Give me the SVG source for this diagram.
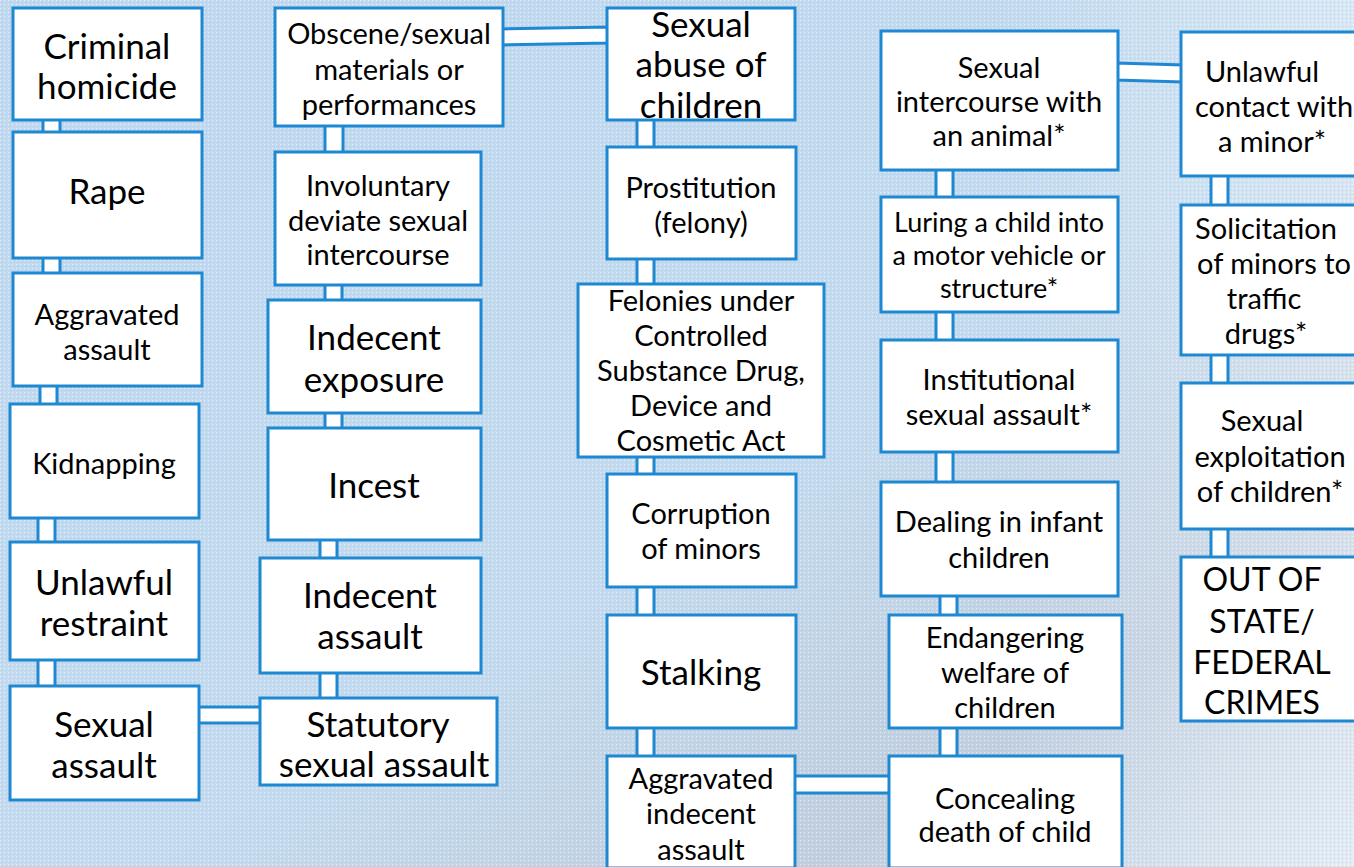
<svg xmlns="http://www.w3.org/2000/svg" width="1354" height="867" viewBox="0 0 1354 867">
<style>
.box{fill:#fff;stroke:#1f88d2;stroke-width:3}
.con{fill:#fff;stroke:#1f88d2;stroke-width:3}
text{font-family:Lato,"Noto Sans","Liberation Sans",sans-serif;fill:#000;text-anchor:middle;dominant-baseline:central}
.L{font-size:35px}
.M{font-size:29px}
.S{font-size:27px}
.X{font-size:32px}
</style>
<defs>
<linearGradient id="bg" x1="0" y1="0" x2="1" y2="1">
<stop offset="0" stop-color="#c0d9ef"/>
<stop offset="0.55" stop-color="#c4dbef"/>
<stop offset="0.8" stop-color="#c2cfdf"/>
<stop offset="1" stop-color="#d4e2ef"/>
</linearGradient>
<pattern id="dots" width="4" height="4" patternUnits="userSpaceOnUse">
<rect x="0" y="0" width="1" height="1" fill="#ffffff" opacity="0.6"/>
<rect x="2" y="2" width="1" height="1" fill="#9fbedc" opacity="0.5"/>
</pattern>
<linearGradient id="sheen" x1="0" y1="0" x2="1" y2="0">
<stop offset="0" stop-color="#fff" stop-opacity="0"/>
<stop offset="1" stop-color="#fff" stop-opacity="0.35"/>
</linearGradient>
</defs>
<rect width="1354" height="867" fill="url(#bg)"/>
<rect x="1000" y="0" width="354" height="867" fill="url(#sheen)"/>
<rect width="1354" height="867" fill="url(#dots)"/>

<g id="connectors">
<rect class="con" x="43" y="118" width="17" height="16"/>
<rect class="con" x="43" y="256" width="17" height="19"/>
<rect class="con" x="40" y="384" width="17" height="22"/>
<rect class="con" x="38" y="516" width="17" height="28"/>
<rect class="con" x="38" y="658" width="17" height="30"/>
<rect class="con" x="197" y="707" width="65" height="16"/>
<rect class="con" x="325" y="124" width="18" height="30"/>
<rect class="con" x="325" y="283" width="17" height="19"/>
<rect class="con" x="325" y="411" width="17" height="19"/>
<rect class="con" x="320" y="538" width="17" height="22"/>
<rect class="con" x="320" y="671" width="17" height="29"/>
<polygon class="con" points="501,29 609,27 609,43 501,45"/>
<rect class="con" x="637" y="118" width="17" height="31"/>
<rect class="con" x="637" y="257" width="17" height="29"/>
<rect class="con" x="637" y="455" width="17" height="21"/>
<rect class="con" x="637" y="585" width="17" height="32"/>
<rect class="con" x="637" y="726" width="17" height="32"/>
<rect class="con" x="793" y="776" width="98" height="17"/>
<polygon class="con" points="1116,63 1183,65 1183,82 1116,80"/>
<rect class="con" x="936" y="168" width="17" height="31"/>
<rect class="con" x="936" y="310" width="17" height="32"/>
<rect class="con" x="936" y="450" width="17" height="34"/>
<rect class="con" x="940" y="594" width="17" height="23"/>
<rect class="con" x="940" y="726" width="17" height="32"/>
<rect class="con" x="1211" y="174" width="17" height="33"/>
<rect class="con" x="1211" y="353" width="17" height="32"/>
<rect class="con" x="1211" y="527" width="17" height="32"/>
</g>

<g id="n-criminal-homicide"><rect class="box" x="13" y="8" width="189" height="112"/><text class="L" x="107" y="45">Criminal</text><text class="L" x="107" y="85">homicide</text></g>
<g id="n-rape"><rect class="box" x="13" y="132" width="189" height="126"/><text class="L" x="107" y="190">Rape</text></g>
<g id="n-aggravated-assault"><rect class="box" x="13" y="273" width="189" height="113"/><text class="M" x="107" y="313">Aggravated</text><text class="M" x="107" y="348">assault</text></g>
<g id="n-kidnapping"><rect class="box" x="10" y="404" width="189" height="114"/><text class="M" x="104" y="462">Kidnapping</text></g>
<g id="n-unlawful-restraint"><rect class="box" x="10" y="542" width="189" height="118"/><text class="L" x="104" y="581">Unlawful</text><text class="L" x="104" y="622">restraint</text></g>
<g id="n-sexual-assault"><rect class="box" x="10" y="686" width="189" height="114"/><text class="L" x="104" y="723">Sexual</text><text class="L" x="104" y="764">assault</text></g>

<g id="n-obscene"><rect class="box" x="275" y="8" width="228" height="118"/><text class="M" x="389" y="32">Obscene/sexual</text><text class="M" x="389" y="68">materials or</text><text class="M" x="389" y="103">performances</text></g>
<g id="n-involuntary"><rect class="box" x="275" y="152" width="206" height="133"/><text class="M" x="378" y="184">Involuntary</text><text class="M" x="378" y="219">deviate sexual</text><text class="M" x="378" y="253">intercourse</text></g>
<g id="n-indecent-exposure"><rect class="box" x="268" y="300" width="213" height="113"/><text class="L" x="374" y="336">Indecent</text><text class="L" x="374" y="378">exposure</text></g>
<g id="n-incest"><rect class="box" x="268" y="428" width="213" height="112"/><text class="L" x="374" y="484">Incest</text></g>
<g id="n-indecent-assault"><rect class="box" x="260" y="558" width="221" height="115"/><text class="L" x="370" y="594">Indecent</text><text class="L" x="370" y="635">assault</text></g>
<g id="n-statutory"><rect class="box" x="260" y="698" width="237" height="87"/><text class="L" x="378" y="723">Statutory</text><text class="L" x="384" y="763">sexual assault</text></g>

<g id="n-sexual-abuse-children"><rect class="box" x="607" y="8" width="188" height="112"/><text class="L" x="701" y="23">Sexual</text><text class="L" x="701" y="63">abuse of</text><text class="L" x="701" y="104">children</text></g>
<g id="n-prostitution"><rect class="box" x="607" y="147" width="189" height="112"/><text class="M" x="701" y="186">Prostitution</text><text class="M" x="701" y="221">(felony)</text></g>
<g id="n-felonies"><rect class="box" x="578" y="284" width="246" height="173"/><text class="M" x="701" y="299">Felonies under</text><text class="M" x="701" y="334">Controlled</text><text class="M" x="701" y="369">Substance Drug,</text><text class="M" x="701" y="404">Device and</text><text class="M" x="701" y="439">Cosmetic Act</text></g>
<g id="n-corruption"><rect class="box" x="607" y="474" width="189" height="113"/><text class="M" x="701" y="512">Corruption</text><text class="M" x="701" y="547">of minors</text></g>
<g id="n-stalking"><rect class="box" x="607" y="615" width="189" height="113"/><text class="L" x="701" y="671">Stalking</text></g>
<g id="n-aggravated-indecent"><rect class="box" x="607" y="756" width="188" height="112"/><text class="M" x="701" y="777">Aggravated</text><text class="M" x="701" y="812">indecent</text><text class="M" x="701" y="848">assault</text></g>

<g id="n-animal"><rect class="box" x="881" y="31" width="237" height="139"/><text class="M" x="999" y="66">Sexual</text><text class="M" x="999" y="100">intercourse with</text><text class="M" x="999" y="134">an animal*</text></g>
<g id="n-luring"><rect class="box" x="881" y="197" width="237" height="115"/><text class="S" x="999" y="221">Luring a child into</text><text class="S" x="999" y="254">a motor vehicle or</text><text class="S" x="999" y="287">structure*</text></g>
<g id="n-institutional"><rect class="box" x="881" y="340" width="237" height="112"/><text class="M" x="999" y="378">Institutional</text><text class="M" x="999" y="413">sexual assault*</text></g>
<g id="n-dealing"><rect class="box" x="881" y="482" width="237" height="114"/><text class="M" x="999" y="520">Dealing in infant</text><text class="M" x="999" y="556">children</text></g>
<g id="n-endangering"><rect class="box" x="889" y="615" width="233" height="113"/><text class="M" x="1005" y="636">Endangering</text><text class="M" x="1005" y="671">welfare of</text><text class="M" x="1005" y="706">children</text></g>
<g id="n-concealing"><rect class="box" x="889" y="756" width="233" height="112"/><text class="M" x="1005" y="797">Concealing</text><text class="M" x="1005" y="830">death of child</text></g>

<g id="n-unlawful-contact"><rect class="box" x="1181" y="32" width="180" height="144"/><text class="M" x="1262" y="70">Unlawful</text><text class="M" x="1274" y="105">contact with</text><text class="M" x="1272" y="140">a minor*</text></g>
<g id="n-solicitation"><rect class="box" x="1181" y="205" width="180" height="150"/><text class="M" x="1266" y="227">Solicitation</text><text class="M" x="1274" y="262">of minors to</text><text class="M" x="1264" y="297">traffic</text><text class="M" x="1266" y="332">drugs*</text></g>
<g id="n-exploitation"><rect class="box" x="1181" y="383" width="180" height="146"/><text class="M" x="1262" y="419">Sexual</text><text class="M" x="1270" y="455">exploitation</text><text class="M" x="1270" y="490">of children*</text></g>
<g id="n-out-of-state"><rect class="box" x="1181" y="557" width="180" height="164"/><text class="X" x="1262" y="578">OUT OF</text><text class="X" x="1262" y="620">STATE/</text><text class="X" x="1262" y="661">FEDERAL</text><text class="X" x="1262" y="701">CRIMES</text></g>
</svg>
